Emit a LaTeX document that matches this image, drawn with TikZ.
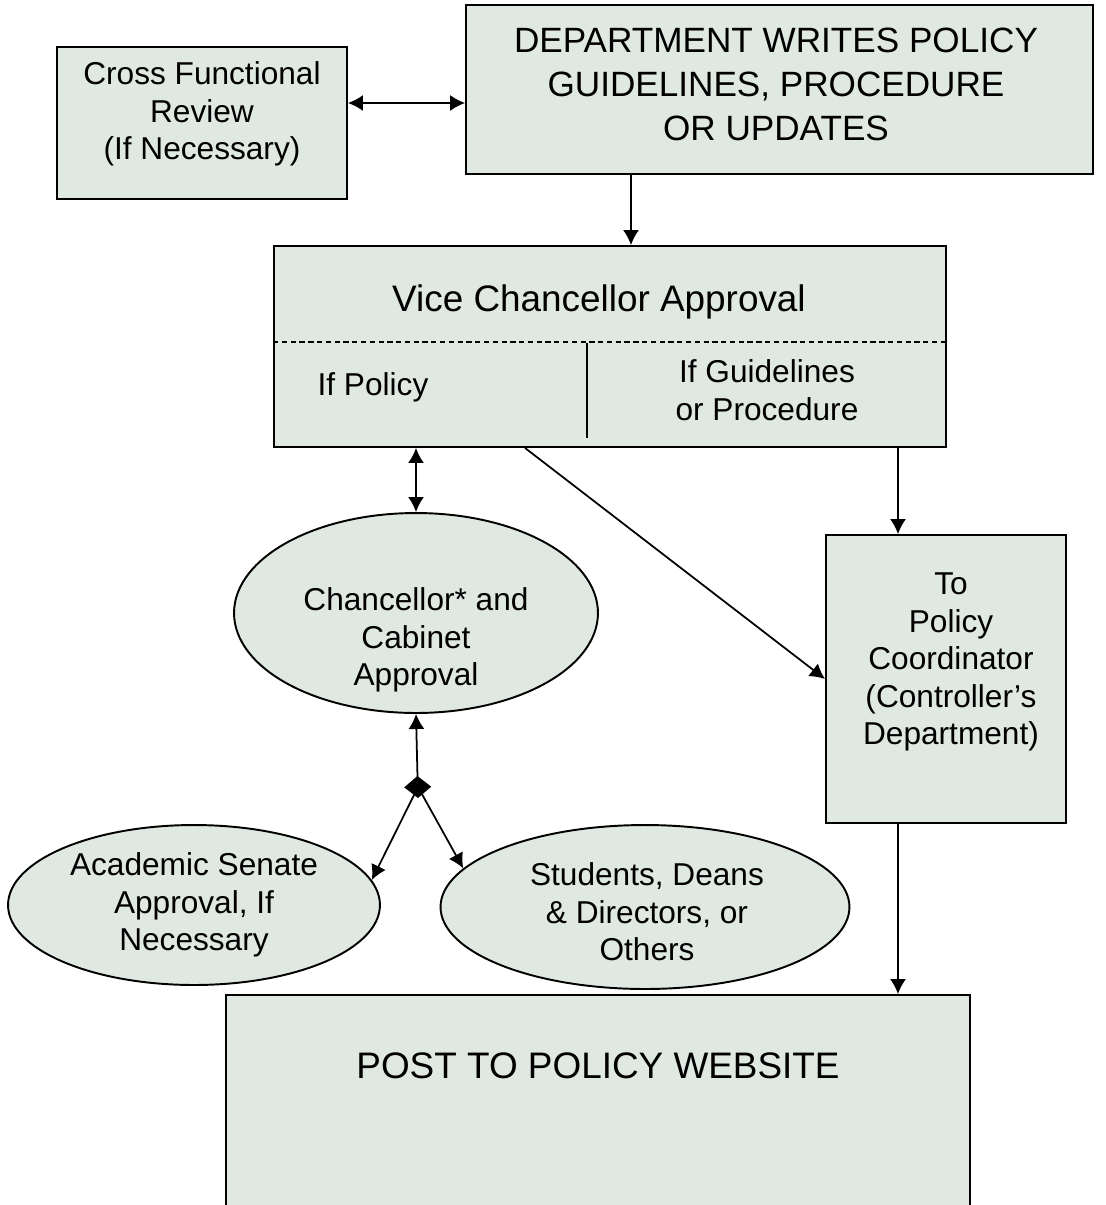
\documentclass[tikz,border=0pt]{standalone}
\usepackage{fontspec}
\setmainfont{Liberation Sans}
\usetikzlibrary{arrows.meta,shapes.geometric}
\definecolor{boxfill}{RGB}{224,232,226}
\tikzset{
  box/.style={draw, line width=1.1pt, fill=boxfill, inner sep=0pt},
  oval/.style={ellipse, draw, line width=1.1pt, fill=boxfill, inner sep=0pt},
  body/.style={align=center, font=\fontsize{18}{21.3}\selectfont},
  big/.style={align=center, font=\fontsize{20}{25}\selectfont},
  head/.style={align=center, font=\fontsize{21}{25}\selectfont},
  arr/.style={line width=1pt, -{Latex[length=3mm,width=3.2mm]}},
  dbl/.style={line width=1pt, {Latex[length=3mm,width=3.2mm]}-{Latex[length=3mm,width=3.2mm]}},
}
\begin{document}
\begin{tikzpicture}[x=0.02cm,y=-0.02cm]
\useasboundingbox (0,0) rectangle (1106,1205);
% columns of the connectors
\coordinate (xdept) at (631,0);
\coordinate (xdiag) at (525,0);
\coordinate (xcoord) at (898,0);
\coordinate (fork) at (418,787);
\coordinate (split) at (587,343);

% boxes and ovals
\node[box, minimum width=5.8cm, minimum height=3.04cm] (review) at (202,123) {};
\node[box, minimum width=12.54cm, minimum height=3.38cm] (dept) at (779.5,89.5) {};
\node[box, minimum width=13.44cm, minimum height=4.02cm] (vc) at (610,346.5) {};
\node[box, minimum width=4.8cm, minimum height=5.76cm] (coord) at (946,679) {};
\node[box, minimum width=14.88cm, minimum height=4.5cm] (post) at (598,1107.5) {};
\node[oval, minimum width=7.28cm, minimum height=4cm] (chanc) at (416,613) {};
\node[oval, minimum width=7.44cm, minimum height=3.2cm] (acad) at (194,905) {};
\node[oval, minimum width=8.18cm, minimum height=3.28cm] (stud) at (645,907) {};

% inside the approval box
\draw[dashed, dash pattern=on 3pt off 2pt, line width=0.9pt]
  ([yshift=-1.94cm]vc.north west) -- ([yshift=-1.94cm]vc.north east);
\draw[line width=0.9pt] (split) -- ++(0,95);

% texts
\node[body] (reviewtxt) at (202,114) {Cross Functional\\Review\\(If Necessary)};
\node[big] (depttxt) at (776,84) {DEPARTMENT WRITES POLICY\\GUIDELINES, PROCEDURE\\OR UPDATES};
\node[head] (vctxt) at (599,302) {Vice Chancellor Approval};
\node[body] (policytxt) at (373,387) {If Policy};
\node[body] (guidetxt) at (767,390) {If Guidelines\\or Procedure};
\node[body] (coordtxt) at (951,662) {To\\Policy\\Coordinator\\(Controller’s\\Department)};
\node[body] (chanctxt) at (416,640) {Chancellor* and\\Cabinet\\Approval};
\node[body] (acadtxt) at (194,905) {Academic Senate\\Approval, If\\Necessary};
\node[body] (studtxt) at (647,912) {Students, Deans\\\& Directors, or\\Others};
\node[head] (posttxt) at (598,1066) {POST TO POLICY WEBSITE};

% connectors
\draw[dbl] ([yshift=-0.27cm]dept.west -| review.east) -- ([yshift=-0.27cm]dept.west);
\draw[arr] (dept.south -| xdept) -- (vc.north -| xdept);
\draw[dbl] (vc.south -| chanc.north) -- (chanc.north);
\draw[arr] (vc.south -| xcoord) -- (coord.north -| xcoord);
\draw[arr] (vc.south -| xdiag) -- (coord.west);
\draw[arr] (coord.south -| xcoord) -- (post.north -| xcoord);
\draw[line width=1pt, {Diamond[length=4.4mm,width=5.4mm]}-{Latex[length=3mm,width=3.2mm]}]
  ([yshift=-0.22cm]fork) -- (chanc.south);
\draw[arr] (fork) -- (acad.8);
\draw[arr] (fork) -- (stud.168);
\end{tikzpicture}
\end{document}
